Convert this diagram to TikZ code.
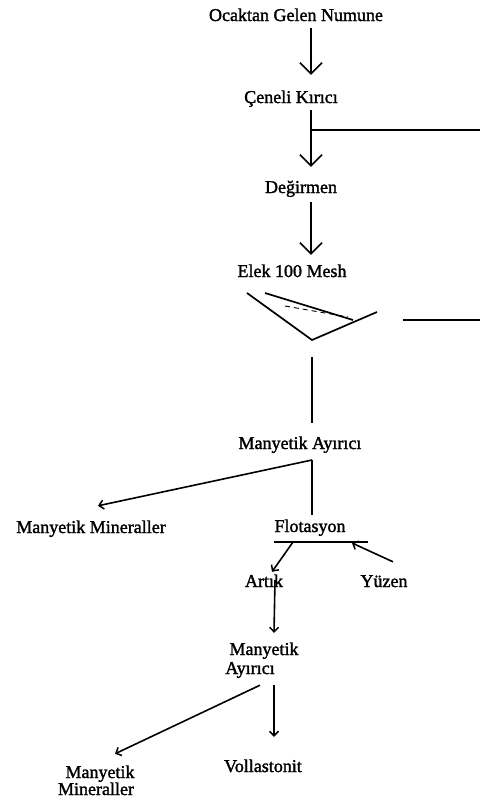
\documentclass[tikz,border=0pt]{standalone}
\usepackage{fontspec}
\setmainfont{Liberation Serif}[FakeBold=1.6]
\usetikzlibrary{arrows.meta}
\begin{document}
\begin{tikzpicture}[x=1pt,y=-1pt,
  lbl/.style={anchor=base,inner sep=0pt,text height=12pt,text depth=4pt,font=\fontsize{18}{20}\selectfont},
  conn/.style={line width=1.6pt},
  bigarr/.style={conn,-{Straight Barb[length=11pt,width=22pt,line width=1.5pt]}},
  smallarr/.style={conn,-{Straight Barb[length=4.5pt,width=9pt,line width=1.5pt]}},
  sieve/.style={line width=1.7pt,line join=miter}]
\useasboundingbox (0,0) rectangle (480,803);
\fill[white] (0,0) rectangle (480,803);
% spine coordinates
\coordinate (spA) at (311,0);
\coordinate (spB) at (312,0);
% labels
\node[lbl] (ocak) at (296,21) {Ocaktan Gelen Numune};
\node[lbl] (cene) at (291,103) {Çeneli Kırıcı};
\node[lbl] (deg) at (301,193) {Değirmen};
\node[lbl] (elek) at (292,277) {Elek 100 Mesh};
\node[lbl] (mayA) at (300,449) {Manyetik Ayırıcı};
\node[lbl] (minA) at (91,533) {Manyetik Mineraller};
\node[lbl] (flot) at (310,532) {Flotasyon};
\node[lbl] (artik) at (264,587) {Artık};
\node[lbl] (yuzen) at (384,587) {Yüzen};
\node[lbl] (mayBa) at (264,655) {Manyetik};
\node[lbl] (mayBb) at (250,674) {Ayırıcı};
\node[lbl] (voll) at (263,772) {Vollastonit};
\node[lbl] (minBa) at (100,778) {Manyetik};
\node[lbl] (minBb) at (96,795) {Mineraller};
% connectors top
\draw[bigarr,shorten <=3pt,shorten >=16pt] (ocak.south -| spA) -- (cene.north -| spA);
\draw[bigarr,shorten <=3pt,shorten >=14pt] (cene.south -| spA) -- (deg.north -| spA);
\coordinate (brA) at (311,130);
\coordinate (exitA) at (480,130);
\draw[conn] (brA) -- (exitA);
\draw[bigarr,shorten <=5pt,shorten >=10pt] (deg.south -| spA) -- (elek.north -| spA);
% sieve
\coordinate (svL) at (247,293);
\coordinate (svB) at (312,340);
\coordinate (svR) at (377,312);
\coordinate (svT1) at (265,293);
\coordinate (svT2) at (353,320);
\draw[sieve] (svL) -- (svB) -- (svR);
\draw[sieve] (svT1) -- (svT2);
\draw[line width=0.9pt,dash pattern=on 5pt off 4pt] (285,306) -- (348,317);
\coordinate (exitB1) at (403,320);
\coordinate (exitB2) at (480,320);
\draw[conn] (exitB1) -- (exitB2);
\draw[conn,shorten <=17pt,shorten >=14pt] (svB) -- (mayA.north -| spB);
% manyetik ayirici split
\coordinate (jA) at (312,460);
\draw[smallarr] (jA) -- ([xshift=7pt,yshift=15pt]minA.north);
\draw[conn,shorten >=5pt] (jA) -- (flot.north -| jA);
% flotasyon bar
\coordinate (barL) at (274,542);
\coordinate (barR) at (368,542);
\draw[conn] (barL) -- (barR);
\draw[smallarr] (293,542) -- ([xshift=8pt,yshift=3pt]artik.north);
\draw[smallarr] ([xshift=9pt,yshift=13pt]yuzen.north) -- (352,543);
% artik to second separator
\draw[smallarr] ([xshift=11pt,yshift=-5pt]artik.north) -- ([xshift=10pt,yshift=10pt]mayBa.north);
% second separator split
\draw[smallarr] ([xshift=10pt,yshift=-7pt]mayBb.south) -- ([xshift=15pt,yshift=12pt]minBa.north);
\draw[smallarr] ([xshift=24pt,yshift=-7pt]mayBb.south) -- ([xshift=11pt,yshift=23pt]voll.north);
\end{tikzpicture}
\end{document}
